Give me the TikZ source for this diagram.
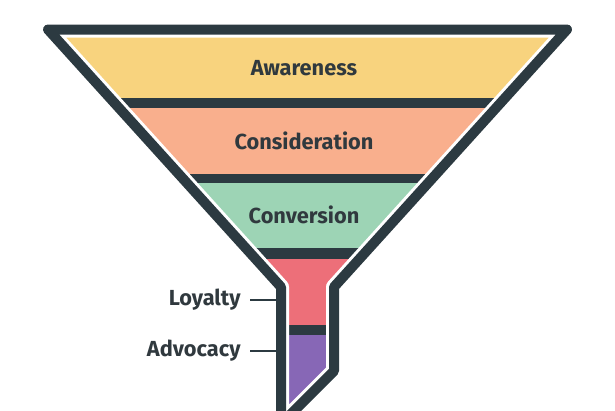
\documentclass[tikz,border=0pt]{standalone}
\usepackage{fontspec}
\setmainfont{Fira Sans}
\usetikzlibrary{positioning}

\definecolor{funneldark}{HTML}{2C3A41}
\definecolor{textdark}{HTML}{30393E}
\definecolor{awarecol}{HTML}{F8D37E}
\definecolor{considercol}{HTML}{F9AF8D}
\definecolor{convertcol}{HTML}{9DD4B5}
\definecolor{loyalcol}{HTML}{ED6F79}
\definecolor{advocol}{HTML}{8767B6}

\begin{document}
\begin{tikzpicture}[x=0.02cm, y=-0.02cm,
                    stage/.style={font=\fontsize{12.4}{14}\selectfont\bfseries, text=textdark},
                    side/.style={font=\fontsize{12.4}{14}\selectfont\bfseries, text=textdark, anchor=east, inner sep=5.2pt}]
    \tikzstyle{rim}=[draw=funneldark, line width=0.2cm, line join=round]
    \tikzstyle{gap}=[draw=white, line width=0.32cm, line join=round]
    \tikzstyle{tick}=[draw=funneldark, line width=1.4pt]
    \def\funnel{(48,29.5) -- (567,29.5) -- (334,287) -- (334,371) -- (281,424) -- (281,287) -- cycle}

      \useasboundingbox (0,0) rectangle (615,410);
      \clip (0,0) rectangle (615,410);

      % bands inside the funnel, dark shows through between them
      \begin{scope}
        \clip \funnel;
        \fill[funneldark] (0,0) rectangle (615,430);
        \fill[awarecol] (0,0) rectangle (615,98);
        \fill[considercol] (0,108) rectangle (615,174);
        \fill[convertcol] (0,183) rectangle (615,248);
        \fill[loyalcol] (0,259) rectangle (615,325);
        \fill[advocol] (0,335) rectangle (615,430);
        \path[gap] \funnel;
      \end{scope}
      \path[rim] \funnel;

      \node[stage] (awareness) at (304,68) {Awareness};
      \node[stage] (consideration) at (304,141) {Consideration};
      \node[stage] (conversion) at (304,215) {Conversion};

      \node[side] (loyalty) at (250,300) {Loyalty};
      \node[side] (advocacy) at (250,351) {Advocacy};
      \coordinate (loyaltyrim) at (277,300);
      \coordinate (advocacyrim) at (277,351);
      \path
        (loyalty.east) edge [tick] (loyaltyrim)
        (advocacy.east) edge [tick] (advocacyrim);
    \end{tikzpicture}
\end{document}
